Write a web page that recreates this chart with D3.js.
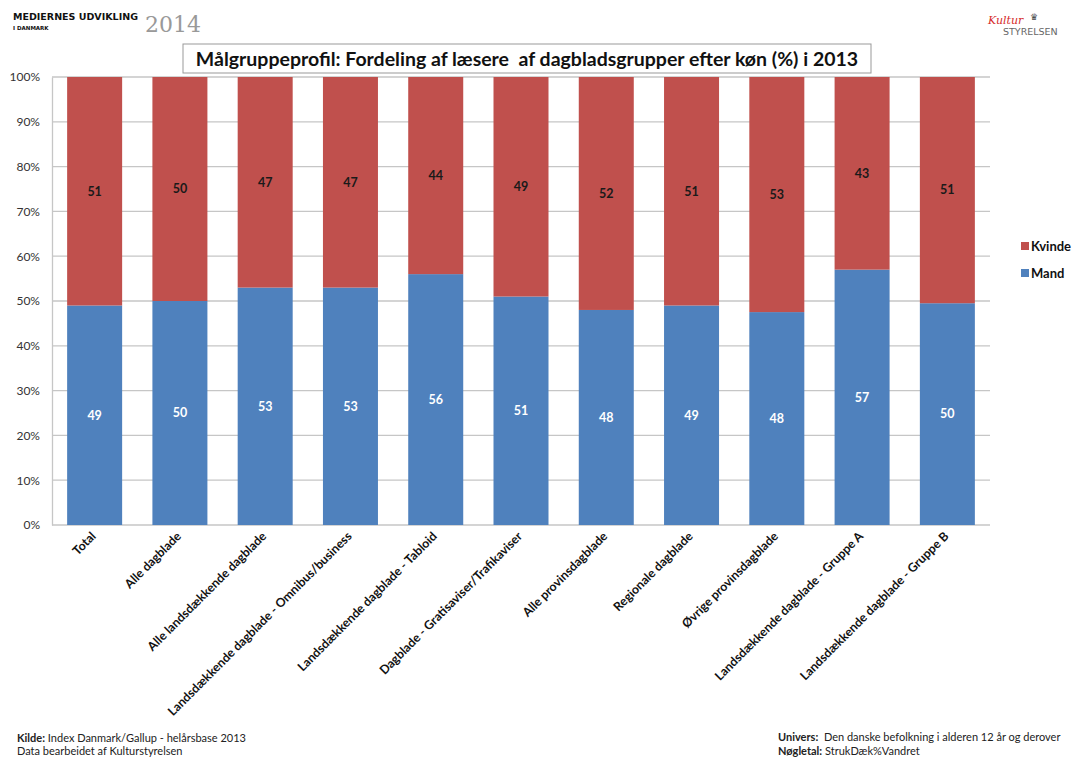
<!DOCTYPE html>
<html>
<head>
<meta charset="utf-8">
<script src="https://cdn.jsdelivr.net/npm/d3@7"></script>
<style>
  html, body { margin: 0; padding: 0; background: #fff; }
  svg { display: block; }
  text { white-space: pre; }
</style>
</head>
<body>
<svg id="chart" width="1074" height="758"></svg>
<script>
const categories = [
  "Total",
  "Alle dagblade",
  "Alle landsdækkende dagblade",
  "Landsdækkende dagblade - Omnibus/business",
  "Landsdækkende dagblade - Tabloid",
  "Dagblade - Gratisaviser/Trafikaviser",
  "Alle provinsdagblade",
  "Regionale dagblade",
  "Øvrige provinsdagblade",
  "Landsdækkende dagblade - Gruppe A",
  "Landsdækkende dagblade - Gruppe B"
];
const mandValues   = [49, 50, 53, 53, 56, 51, 48, 49, 48, 57, 50];
const kvindeValues = [51, 50, 47, 47, 44, 49, 52, 51, 53, 43, 51];
const seriesNames  = ["Mand", "Kvinde"];
const yTicks = [0, 0.1, 0.2, 0.3, 0.4, 0.5, 0.6, 0.7, 0.8, 0.9, 1.0];
const titleText = "Målgruppeprofil: Fordeling af læsere  af dagbladsgrupper efter køn (%) i 2013";

const colors = { Mand: "#4F81BD", Kvinde: "#C0504D" };
const labelColors = { Mand: "#ffffff", Kvinde: "#1a1a1a" };
const font = "Lato, 'Open Sans', sans-serif";

const svg = d3.select("#chart");
const x = d3.scaleBand().domain(categories).range([52, 990]).paddingInner(0.355).paddingOuter(0.1775);
const y = d3.scaleLinear().domain([0, 1]).range([525, 77]);

const rows = categories.map((c, i) => ({ cat: c, Mand: mandValues[i], Kvinde: kvindeValues[i] }));
const stack = d3.stack().keys(seriesNames).offset(d3.stackOffsetExpand);
const series = stack(rows);

// gridlines
svg.append("g").selectAll("line").data(yTicks).join("line")
  .attr("x1", 52).attr("x2", 990)
  .attr("y1", d => y(d)).attr("y2", d => y(d))
  .attr("stroke", "#c6c6c6").attr("stroke-width", 1.3);

// y axis
const yAxis = svg.append("g").attr("transform", "translate(52,0)")
  .call(d3.axisLeft(y).tickValues(yTicks).tickFormat(d3.format(".0%")).tickSize(0).tickPadding(12));
yAxis.select(".domain").attr("stroke", "#c6c6c6").attr("stroke-width", 1.3);
yAxis.selectAll("text").attr("font-family", font).attr("font-size", 12).attr("fill", "#333");

// bars
const g = svg.append("g");
series.forEach(s => {
  g.append("g").selectAll("rect").data(s).join("rect")
    .attr("x", d => x(d.data.cat))
    .attr("width", x.bandwidth())
    .attr("y", d => y(d[1]))
    .attr("height", d => y(d[0]) - y(d[1]))
    .attr("fill", colors[s.key]);
  g.append("g").selectAll("text").data(s).join("text")
    .attr("x", d => x(d.data.cat) + x.bandwidth() / 2)
    .attr("y", d => (y(d[0]) + y(d[1])) / 2)
    .attr("dy", "0.35em")
    .attr("text-anchor", "middle")
    .attr("font-family", font).attr("font-weight", "bold").attr("font-size", 12.5)
    .attr("fill", labelColors[s.key])
    .text(d => d.data[s.key]);
});

// x labels
svg.append("g").selectAll("text").data(categories).join("text")
  .attr("transform", d => `translate(${x(d) + x.bandwidth() / 2 + 2},${537}) rotate(-45)`)
  .attr("text-anchor", "end")
  .attr("font-family", font).attr("font-weight", "bold").attr("font-size", 12.3)
  .attr("fill", "#111")
  .text(d => d);

// legend
const legend = svg.append("g");
[["Kvinde", 246], ["Mand", 273]].forEach(([k, yy]) => {
  legend.append("rect").attr("x", 1021).attr("y", yy - 4).attr("width", 8).attr("height", 8).attr("fill", colors[k]);
  legend.append("text").attr("x", 1031).attr("y", yy).attr("dy", "0.35em")
    .attr("font-family", font).attr("font-weight", "bold").attr("font-size", 13).attr("fill", "#111").text(k);
});

// title box
svg.append("rect").attr("x", 183).attr("y", 44).attr("width", 688).attr("height", 29)
  .attr("fill", "#fff").attr("stroke", "#999").attr("stroke-width", 1);
svg.append("text").attr("x", 527).attr("y", 59).attr("dy", "0.35em").attr("text-anchor", "middle")
  .attr("font-family", font).attr("font-weight", "bold").attr("font-size", 19.5).attr("fill", "#111")
  .text(titleText);

// header left
svg.append("text").attr("x", 13).attr("y", 20).attr("font-family", "'DejaVu Sans', sans-serif")
  .attr("font-weight", "bold").attr("font-size", 9.5).attr("fill", "#111").text("MEDIERNES UDVIKLING");
svg.append("text").attr("x", 13).attr("y", 30).attr("font-family", "'DejaVu Sans', sans-serif")
  .attr("font-weight", "bold").attr("font-size", 5.5).attr("fill", "#111").text("I DANMARK");
svg.append("text").attr("x", 145).attr("y", 32).attr("font-family", "'DejaVu Serif', serif")
  .attr("font-size", 22).attr("fill", "#999").text("2014");

// header right logo
svg.append("text").attr("x", 988).attr("y", 24).attr("font-family", "'DejaVu Serif', serif")
  .attr("font-style", "italic").attr("font-size", 11).attr("fill", "#d62b2b").text("Kultur");
svg.append("text").attr("x", 1030).attr("y", 20).attr("font-family", "'DejaVu Sans', sans-serif")
  .attr("font-size", 9).attr("fill", "#444").text("♛");
svg.append("text").attr("x", 1003).attr("y", 35).attr("font-family", "'DejaVu Sans', sans-serif")
  .attr("font-size", 9.5).attr("fill", "#666").text("STYRELSEN");

// footer
const fsz = 11;
const f1 = svg.append("text").attr("x", 17).attr("y", 742).attr("font-family", font).attr("font-size", fsz).attr("fill", "#222");
f1.append("tspan").attr("font-weight", "bold").text("Kilde:");
f1.append("tspan").text(" Index Danmark/Gallup - helårsbase 2013");
svg.append("text").attr("x", 17).attr("y", 755).attr("font-family", font).attr("font-size", fsz).attr("fill", "#222")
  .text("Data bearbeidet af Kulturstyrelsen");
const f2 = svg.append("text").attr("x", 778).attr("y", 741).attr("font-family", font).attr("font-size", fsz).attr("fill", "#222");
f2.append("tspan").attr("font-weight", "bold").text("Univers:");
f2.append("tspan").text("  Den danske befolkning i alderen 12 år og derover");
const f3 = svg.append("text").attr("x", 778).attr("y", 755).attr("font-family", font).attr("font-size", fsz).attr("fill", "#222");
f3.append("tspan").attr("font-weight", "bold").text("Nøgletal:");
f3.append("tspan").text(" StrukDæk%Vandret");
</script>
</body>
</html>
